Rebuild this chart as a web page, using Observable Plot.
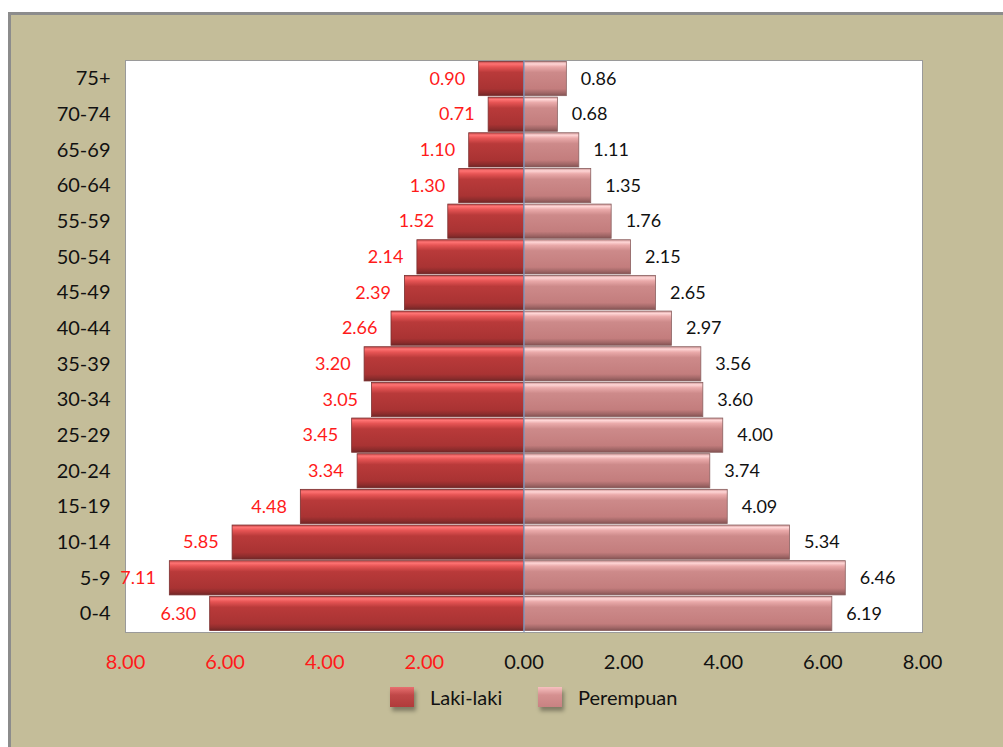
<!DOCTYPE html>
<html>
<head>
<meta charset="utf-8">
<script src="https://cdn.jsdelivr.net/npm/d3@7"></script>
<script src="https://cdn.jsdelivr.net/npm/@observablehq/plot@0.6"></script>
<style>
  html, body { margin: 0; padding: 0; background: #ffffff; }
  #wrap { position: relative; width: 1003px; height: 747px; overflow: hidden; font-family: Lato, sans-serif; }
  #bg { position: absolute; left: 8px; top: 12px; right: -4px; bottom: -4px; background: #c4bd99; border-left: 3px solid #8c8c8c; border-top: 3px solid #8c8c8c; }
  #chart { position: absolute; left: 0; top: 0; }
  #legend { position: absolute; left: 0; top: 680px; width: 1003px; height: 40px; }
  .item { position: absolute; top: 5px; display: flex; align-items: center; font-size: 20px; color: #111; }
  .sw { width: 24px; height: 20px; margin-right: 16px; box-shadow: 2px 4px 4px rgba(0,0,0,0.35); }
</style>
</head>
<body>
<div id="wrap">
  <div id="bg"></div>
  <div id="chart"></div>
  <div id="legend">
    <div class="item" style="left:390px"><div class="sw" style="background:linear-gradient(#e87070,#c04848 40%,#b03b3b)"></div>Laki-laki</div>
    <div class="item" style="left:538px"><div class="sw" style="background:linear-gradient(#f7c0c0,#d59090 40%,#c88282)"></div>Perempuan</div>
  </div>
</div>
<script>
const ageGroups = ["75+","70-74","65-69","60-64","55-59","50-54","45-49","40-44","35-39","30-34","25-29","20-24","15-19","10-14","5-9","0-4"];
const male   = [0.90,0.71,1.10,1.30,1.52,2.14,2.39,2.66,3.20,3.05,3.45,3.34,4.48,5.85,7.11,6.30];
const female = [0.86,0.68,1.11,1.35,1.76,2.15,2.65,2.97,3.56,3.60,4.00,3.74,4.09,5.34,6.46,6.19];
const leftTicks = [-8,-6,-4,-2];
const rightTicks = [0,2,4,6,8];

const rows = ageGroups.map((g, i) => ({age: g, m: male[i], f: female[i]}));
const fmt = v => Math.abs(v).toFixed(2);

const plot = Plot.plot({
  width: 1003,
  height: 680,
  marginLeft: 125,
  marginRight: 81,
  marginTop: 60,
  marginBottom: 48,
  style: {background: "transparent", fontFamily: "Lato, sans-serif", fontSize: "20px", color: "#111"},
  x: {domain: [-8, 8], axis: null},
  y: {domain: ageGroups, padding: 0.04, round: false, axis: null},
  marks: [
    Plot.frame({fill: "white", stroke: "#9a9a9a", strokeWidth: 1}),
    Plot.barX(rows, {y: "age", x1: 0, x2: d => -d.m, fill: "url(#gradM)", stroke: "#7a3030", strokeWidth: 0.8}),
    Plot.barX(rows, {y: "age", x1: 0, x2: "f", fill: "url(#gradF)", stroke: "#8a6060", strokeWidth: 0.8}),
    Plot.ruleX([0], {stroke: "#7b97c4", strokeWidth: 1.2}),
    Plot.text(rows, {y: "age", x: d => -d.m, text: d => fmt(d.m), textAnchor: "end", dx: -14, fill: "#ff1a1a", fontSize: 18}),
    Plot.text(rows, {y: "age", x: "f", text: d => fmt(d.f), textAnchor: "start", dx: 14, fill: "#111", fontSize: 18}),
    Plot.axisY({tickSize: 0, tickPadding: 15, fontSize: 20, fill: "#111", label: null}),
    Plot.axisX(leftTicks, {tickSize: 0, tickPadding: 22, tickFormat: fmt, fill: "#ff1a1a", color: "#ff1a1a", fontSize: 20, label: null}),
    Plot.axisX(rightTicks, {tickSize: 0, tickPadding: 22, tickFormat: fmt, fill: "#111", fontSize: 20, label: null})
  ]
});

const ns = "http://www.w3.org/2000/svg";
const defs = document.createElementNS(ns, "defs");
defs.innerHTML = `
  <linearGradient id="gradM" x1="0" y1="0" x2="0" y2="1">
    <stop offset="0" stop-color="#c04848"/>
    <stop offset="0.07" stop-color="#ff7373"/>
    <stop offset="0.16" stop-color="#e65454"/>
    <stop offset="0.32" stop-color="#b93a3a"/>
    <stop offset="0.8" stop-color="#a93333"/>
    <stop offset="0.92" stop-color="#8c2c2c"/>
    <stop offset="1" stop-color="#6e2626"/>
  </linearGradient>
  <linearGradient id="gradF" x1="0" y1="0" x2="0" y2="1">
    <stop offset="0" stop-color="#cc9494"/>
    <stop offset="0.07" stop-color="#ffd6d6"/>
    <stop offset="0.16" stop-color="#eaaaaa"/>
    <stop offset="0.32" stop-color="#cd8a8a"/>
    <stop offset="0.8" stop-color="#c37d7d"/>
    <stop offset="0.92" stop-color="#a06666"/>
    <stop offset="1" stop-color="#835252"/>
  </linearGradient>`;
plot.insertBefore(defs, plot.firstChild);
document.getElementById("chart").appendChild(plot);
</script>
</body>
</html>
